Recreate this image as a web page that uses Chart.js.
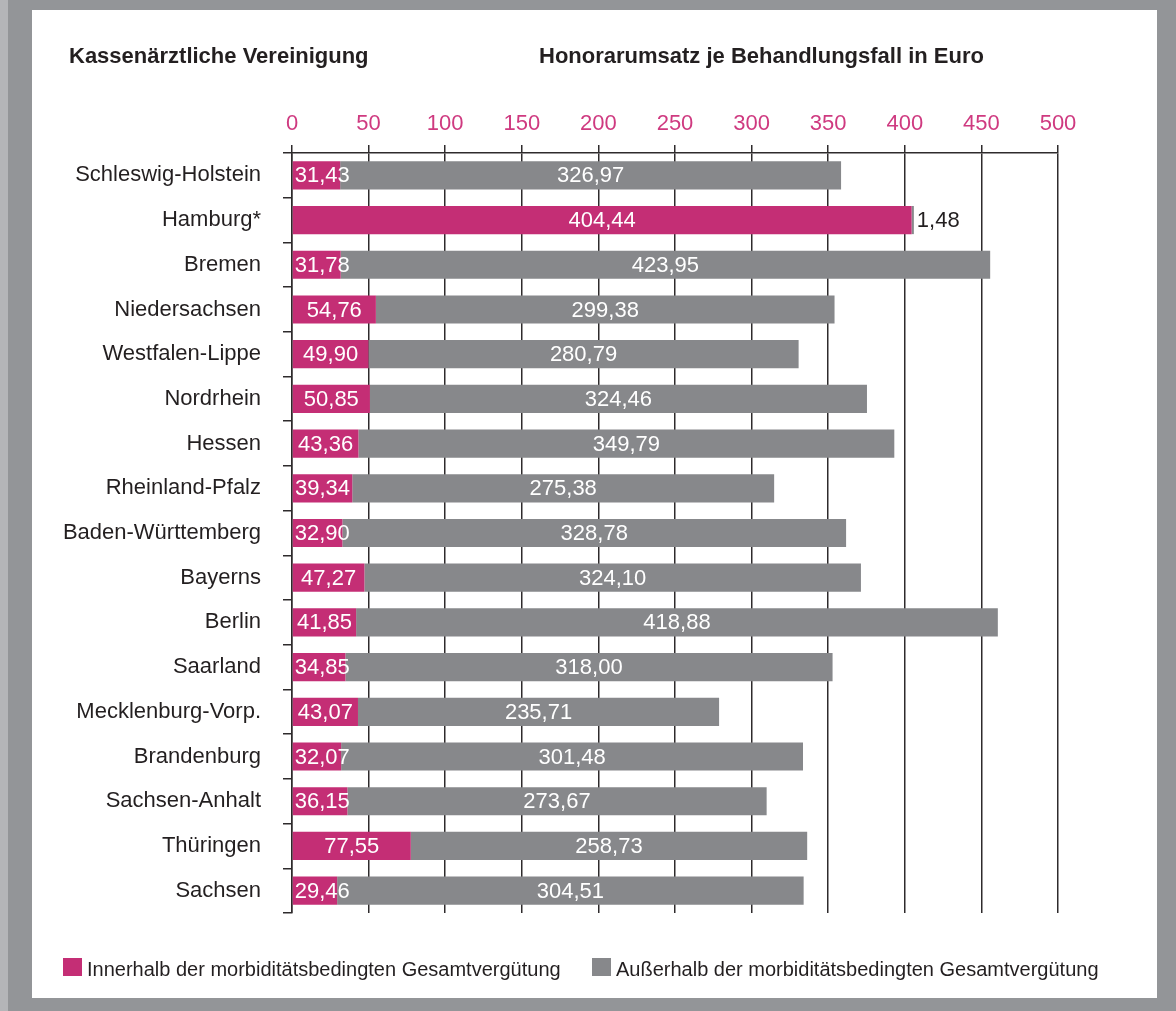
<!DOCTYPE html>
<html lang="de">
<head>
<meta charset="utf-8">
<title>Honorarumsatz je Behandlungsfall</title>
<script src="https://cdn.jsdelivr.net/npm/chart.js@4.4.1/dist/chart.umd.min.js"></script>
<style>
  html, body { margin: 0; padding: 0; background: #939598; }
  #wrap { position: relative; width: 1176px; height: 1011px; }
  canvas { display: block; }
</style>
</head>
<body>
<div id="wrap"><canvas id="chart" width="1176" height="1011"></canvas></div>
<script>
// Kassenärztliche Vereinigungen (rows, top to bottom)
const regions = [
  'Schleswig-Holstein', 'Hamburg*', 'Bremen', 'Niedersachsen', 'Westfalen-Lippe',
  'Nordrhein', 'Hessen', 'Rheinland-Pfalz', 'Baden-Württemberg', 'Bayerns',
  'Berlin', 'Saarland', 'Mecklenburg-Vorp.', 'Brandenburg', 'Sachsen-Anhalt',
  'Thüringen', 'Sachsen'
];
// Honorarumsatz je Behandlungsfall in Euro
const innerhalbMGV = [
  31.43, 404.44, 31.78, 54.76, 49.90, 50.85, 43.36, 39.34, 32.90, 47.27,
  41.85, 34.85, 43.07, 32.07, 36.15, 77.55, 29.46
];
const ausserhalbMGV = [
  326.97, 1.48, 423.95, 299.38, 280.79, 324.46, 349.79, 275.38, 328.78, 324.10,
  418.88, 318.00, 235.71, 301.48, 273.67, 258.73, 304.51
];
const seriesNames = [
  'Innerhalb der morbiditätsbedingten Gesamtvergütung',
  'Außerhalb der morbiditätsbedingten Gesamtvergütung'
];
const axisMin = 0;
const axisMax = 500;
const axisStep = 50;
const headLeft = 'Kassenärztliche Vereinigung';
const headRight = 'Honorarumsatz je Behandlungsfall in Euro';

const MAGENTA = '#c42e75';
const TICK_MAGENTA = '#cf3a80';
const GREY_BAR = '#87888b';
const FRAME = '#939598';
const INK = '#231f20';
const FAMILY = '"Liberation Sans", Arial, sans-serif';

const fmt = v => v.toFixed(2).replace('.', ',');

// Frame and white panel behind the chart
const panelPlugin = {
  id: 'panel',
  beforeDraw(chart) {
    const c = chart.ctx;
    c.save();
    c.fillStyle = FRAME;
    c.fillRect(0, 0, chart.width, chart.height);
    c.fillStyle = '#b4b5b8';
    c.fillRect(0, 0, 8, chart.height);
    c.fillStyle = '#ffffff';
    c.fillRect(32, 10, 1125, 988);
    c.restore();
  }
};

// Column headings above the axis
const headPlugin = {
  id: 'heads',
  afterDraw(chart) {
    const c = chart.ctx;
    c.save();
    c.fillStyle = INK;
    c.font = 'bold 22px ' + FAMILY;
    c.textBaseline = 'alphabetic';
    c.textAlign = 'left';
    c.fillText(headLeft, 69, 63);
    c.fillText(headRight, 539, 63);
    c.restore();
  }
};

// Value labels inside / beside the bar segments
const valuePlugin = {
  id: 'values',
  afterDatasetsDraw(chart) {
    const c = chart.ctx;
    c.save();
    c.font = '22px ' + FAMILY;
    c.textBaseline = 'middle';
    chart.data.datasets.forEach((ds, di) => {
      const meta = chart.getDatasetMeta(di);
      meta.data.forEach((bar, i) => {
        const txt = fmt(ds.data[i]);
        const w = c.measureText(txt).width;
        const left = Math.min(bar.x, bar.base);
        const right = Math.max(bar.x, bar.base);
        const seg = right - left;
        const y = bar.y + 1;
        if (seg >= w + 4) {
          c.fillStyle = '#ffffff';
          c.textAlign = 'center';
          c.fillText(txt, (left + right) / 2, y);
        } else if (di === 0) {
          c.fillStyle = '#ffffff';
          c.textAlign = 'left';
          c.fillText(txt, left + 2, y);
        } else {
          c.fillStyle = INK;
          c.textAlign = 'left';
          c.fillText(txt, right + 3, y);
        }
      });
    });
    c.restore();
  }
};

// Legend row along the bottom
const legendPlugin = {
  id: 'legendRow',
  afterDraw(chart) {
    const c = chart.ctx;
    c.save();
    c.font = '20px ' + FAMILY;
    c.textBaseline = 'alphabetic';
    c.textAlign = 'left';
    const xs = [63, 592];
    chart.data.datasets.forEach((ds, di) => {
      c.fillStyle = ds.backgroundColor;
      c.fillRect(xs[di], 958, 19, 18);
      c.fillStyle = INK;
      c.fillText(ds.label, xs[di] + 24, 976);
    });
    c.restore();
  }
};

new Chart(document.getElementById('chart'), {
  type: 'bar',
  data: {
    labels: regions,
    datasets: [
      { label: seriesNames[0], data: innerhalbMGV, backgroundColor: MAGENTA },
      { label: seriesNames[1], data: ausserhalbMGV, backgroundColor: GREY_BAR }
    ]
  },
  options: {
    indexAxis: 'y',
    responsive: false,
    animation: false,
    devicePixelRatio: 1,
    layout: { padding: { left: 0, right: 118, top: 95, bottom: 98 } },
    datasets: { bar: { barPercentage: 0.63, categoryPercentage: 1.0, borderWidth: 0 } },
    plugins: {
      legend: { display: false },
      tooltip: { enabled: false },
      title: { display: false }
    },
    scales: {
      x: {
        position: 'top',
        stacked: true,
        min: axisMin,
        max: axisMax,
        afterFit(scale) { scale.height = 58; },
        ticks: {
          stepSize: axisStep,
          color: TICK_MAGENTA,
          font: { family: FAMILY, size: 22 },
          padding: 8,
          maxRotation: 0,
          callback: v => String(v)
        },
        grid: {
          color: '#2e2b2c',
          lineWidth: 1.5,
          tickLength: 8,
          tickColor: '#2e2b2c',
          drawOnChartArea: true
        },
        border: { display: true, color: '#2e2b2c', width: 1.5 }
      },
      y: {
        stacked: true,
        afterFit(scale) { scale.width = 292; },
        ticks: {
          color: INK,
          font: { family: FAMILY, size: 22 },
          padding: 22
        },
        grid: {
          offset: true,
          drawOnChartArea: false,
          tickLength: 9,
          tickColor: '#2e2b2c',
          lineWidth: 1.5
        },
        border: { display: true, color: '#2e2b2c', width: 1.5 }
      }
    }
  },
  plugins: [panelPlugin, headPlugin, valuePlugin, legendPlugin]
});
</script>
</body>
</html>
